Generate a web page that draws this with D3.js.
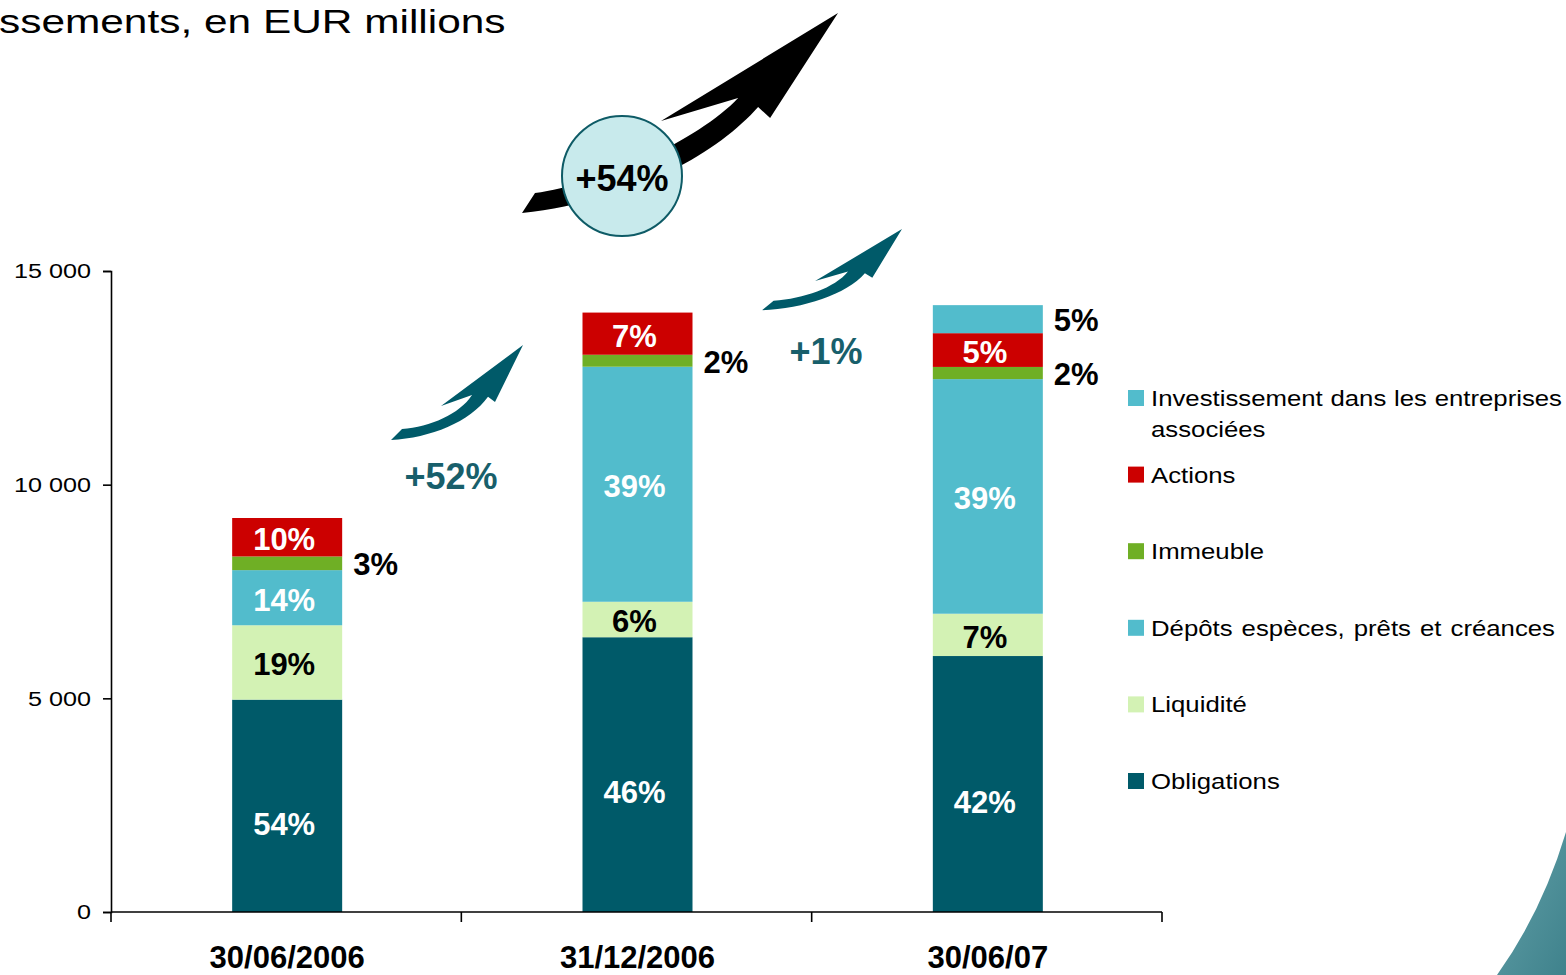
<!DOCTYPE html>
<html>
<head>
<meta charset="utf-8">
<script src="https://cdn.jsdelivr.net/npm/d3@7"></script>
<style>
  body { margin: 0; background: #fff; }
  svg { display: block; font-family: "Liberation Sans", Arial, sans-serif; }
</style>
</head>
<body>
<script>
// placements, EUR millions
var categories = ["30/06/2006", "31/12/2006", "30/06/07"];
var totals = ["9 223", "14 027", "14 211"];

var obligations   = [4970, 6430, 5990];
var liquidite     = [1740, 830, 990];
var depots        = [1290, 5500, 5490];
var immeuble      = [320, 280, 285];
var actions       = [900, 987, 790];
var investissement = [0, 0, 656];

var obligationsPct = ["54%", "46%", "42%"];
var liquiditePct   = ["19%", "6%", "7%"];
var depotsPct      = ["14%", "39%", "39%"];
var immeublePct    = ["3%", "2%", "2%"];
var actionsPct     = ["10%", "7%", "5%"];
var investPct      = ["", "", "5%"];

var growth = ["+52%", "+1%"];
var growthTotal = "+54%";

var yTicks = [0, 5000, 10000, 15000];

var series = [
    {key: "obl", name: "Obligations", values: obligations, pct: obligationsPct, fill: "#005a69", text: "#fff", inside: true},
    {key: "liq", name: "Liquidité", values: liquidite, pct: liquiditePct, fill: "#d3f2b4", text: "#000", inside: true},
    {key: "dep", name: "Dépôts espèces, prêts et créances", values: depots, pct: depotsPct, fill: "#52bccc", text: "#fff", inside: true},
    {key: "imm", name: "Immeuble", values: immeuble, pct: immeublePct, fill: "#6faf25", text: "#000", inside: false},
    {key: "act", name: "Actions", values: actions, pct: actionsPct, fill: "#cc0000", text: "#fff", inside: true},
    {key: "inv", name: "Investissement dans les entreprises associées", values: investissement, pct: investPct, fill: "#52bccc", text: "#000", inside: false}
];

var W = 1566, H = 975;
var teal = "#185f6b";
// the slide was stretched sideways, plain text looks wider than the font
var stretchTitle = 1.285, stretchTicks = 1.2, stretchLegend = 1.12;

var svg = d3.select("body").append("svg")
    .attr("width", W)
    .attr("height", H);

var defs = svg.append("defs");
var grad = defs.append("linearGradient")
    .attr("id", "corner")
    .attr("x1", 0).attr("y1", 0).attr("x2", 1).attr("y2", 1);
grad.append("stop").attr("offset", "0%").attr("stop-color", "#62a0a8");
grad.append("stop").attr("offset", "100%").attr("stop-color", "#3f828c");

// decoration in the bottom right corner
svg.append("path")
    .attr("d", "M1566,832 Q1542,912 1497,975 L1566,975 Z")
    .attr("fill", "url(#corner)");

// title, cut off at the left like the original slide
svg.append("text")
    .attr("transform", "scale(" + stretchTitle + ",1)")
    .attr("x", -1 / stretchTitle)
    .attr("y", 33)
    .attr("font-size", 33)
    .attr("fill", "#000")
    .text("ssements, en EUR millions");

var rows = categories.map(function(c, i) {
    var r = {cat: c};
    series.forEach(function(s) { r[s.key] = s.values[i]; });
    return r;
});

var stack = d3.stack().keys(series.map(function(s) { return s.key; }));
var layers = stack(rows);

var x = d3.scaleBand()
    .domain(categories)
    .range([111, 1162])
    .padding(0);

var y = d3.scaleLinear()
    .domain([0, 15000])
    .range([912, 271]);

var barW = 110;
function barX(cat) { return x(cat) + x.bandwidth() / 2 - barW / 2 + 1; }

var fmt = d3.formatLocale({decimal: ",", thousands: " ", grouping: [3], currency: ["", ""]}).format(",d");

// bars
var gBars = svg.append("g");
layers.forEach(function(layer, li) {
    var s = series[li];
    gBars.selectAll("rect." + s.key)
        .data(layer)
        .enter()
        .append("rect")
        .attr("class", s.key)
        .attr("x", function(d) { return barX(d.data.cat); })
        .attr("width", barW)
        .attr("y", function(d) { return y(d[1]); })
        .attr("height", function(d) { return y(d[0]) - y(d[1]); })
        .attr("fill", s.fill);
});

// percent labels
var gLab = svg.append("g")
    .attr("font-weight", "bold")
    .attr("font-size", 31);
layers.forEach(function(layer, li) {
    var s = series[li];
    layer.forEach(function(d, i) {
        var txt = s.pct[i];
        if (!txt) return;
        var cy = (y(d[0]) + y(d[1])) / 2;
        if (s.inside) {
            gLab.append("text")
                .attr("x", barX(d.data.cat) + barW / 2 - 3)
                .attr("y", cy + (s.key === "obl" ? 18 : 2))
                .attr("dy", "0.35em")
                .attr("text-anchor", "middle")
                .attr("fill", s.text)
                .text(txt);
        } else {
            gLab.append("text")
                .attr("x", barX(d.data.cat) + barW + 11)
                .attr("y", cy + 1)
                .attr("dy", "0.35em")
                .attr("fill", "#000")
                .text(txt);
        }
    });
});

// totals above the bars
var top = layers[layers.length - 1];
svg.append("g")
    .selectAll("text")
    .data(top)
    .enter()
    .append("text")
    .attr("x", function(d) { return x(d.data.cat) + x.bandwidth() / 2 + 2; })
    .attr("y", function(d) { return y(d[1]) - 21; })
    .attr("text-anchor", "middle")
    .attr("font-weight", "bold")
    .attr("font-size", 36)
    .attr("fill", teal)
    .text(function(d, i) { return totals[i]; });

// axes
var yAxis = d3.axisLeft(y)
    .tickValues(yTicks)
    .tickSize(8)
    .tickPadding(12)
    .tickFormat(fmt);

var gy = svg.append("g")
    .attr("transform", "translate(111,0)")
    .call(yAxis);
gy.select(".domain").attr("stroke", "#000").attr("stroke-width", 1.6);
gy.selectAll(".tick line").attr("stroke", "#000").attr("stroke-width", 1.6);
gy.selectAll(".tick text")
    .attr("font-family", "Liberation Sans, Arial, sans-serif")
    .attr("font-size", 21)
    .attr("fill", "#000")
    .attr("x", -20 / stretchTicks)
    .attr("transform", "scale(" + stretchTicks + ",1)");

var gx = svg.append("g").attr("transform", "translate(0,912)");
gx.append("line")
    .attr("x1", 111).attr("x2", 1162)
    .attr("stroke", "#000").attr("stroke-width", 1.6);
var edges = categories.map(function(c) { return x(c); }).concat([x.range()[1]]);
gx.selectAll("line.tk")
    .data(edges)
    .enter()
    .append("line")
    .attr("class", "tk")
    .attr("x1", function(d) { return d; })
    .attr("x2", function(d) { return d; })
    .attr("y1", 0).attr("y2", 10)
    .attr("stroke", "#000").attr("stroke-width", 1.6);
gx.selectAll("text")
    .data(categories)
    .enter()
    .append("text")
    .attr("x", function(d) { return x(d) + x.bandwidth() / 2 + 1; })
    .attr("y", 56)
    .attr("text-anchor", "middle")
    .attr("font-weight", "bold")
    .attr("font-size", 31)
    .attr("fill", "#000")
    .text(function(d) { return d; });

// curved arrows, shape template in a unit box
var tealArrow = {
    tailB: [0, 0.99], tailT: [0.083, 0.875],
    c1: [0.3, 0.85], c2: [0.52, 0.72], notchL: [0.614, 0.52],
    barbL: [0.379, 0.635], tip: [1, 0], barbR: [0.788, 0.594],
    notchR: [0.735, 0.54], c3: [0.6, 0.8], c4: [0.3, 0.97]
};
var blackArrow = {
    tailB: [0, 1], tailT: [0.041, 0.9],
    c1: [0.245, 0.86], c2: [0.56, 0.635], notchL: [0.684, 0.425],
    barbL: [0.44, 0.54], tip: [1, 0], barbR: [0.785, 0.525],
    notchR: [0.747, 0.47], c3: [0.627, 0.685], c4: [0.373, 0.935]
};

function arrowPath(t, x0, y0, w, h) {
    function p(k) { return (x0 + t[k][0] * w).toFixed(1) + "," + (y0 + t[k][1] * h).toFixed(1); }
    return "M" + p("tailB") + " L" + p("tailT") +
        " C" + p("c1") + " " + p("c2") + " " + p("notchL") +
        " L" + p("barbL") + " L" + p("tip") + " L" + p("barbR") + " L" + p("notchR") +
        " C" + p("c3") + " " + p("c4") + " " + p("tailB") + " Z";
}

var gArr = svg.append("g");
gArr.append("path").attr("d", arrowPath(tealArrow, 391, 345, 132, 96)).attr("fill", "#005a69");
gArr.append("path").attr("d", arrowPath(tealArrow, 762, 229, 140, 82)).attr("fill", "#005a69");
gArr.append("path").attr("d", arrowPath(blackArrow, 522, 13, 316, 200)).attr("fill", "#000");

gArr.append("circle")
    .attr("cx", 622).attr("cy", 176).attr("r", 60)
    .attr("fill", "#c8eaec")
    .attr("stroke", "#0e5b66")
    .attr("stroke-width", 2);
gArr.append("text")
    .attr("x", 622).attr("y", 178)
    .attr("dy", "0.35em")
    .attr("text-anchor", "middle")
    .attr("font-weight", "bold")
    .attr("font-size", 36)
    .attr("fill", "#000")
    .text(growthTotal);

// growth between dates
var growthPos = [[451, 476], [826, 351]];
svg.append("g")
    .selectAll("text")
    .data(growth)
    .enter()
    .append("text")
    .attr("x", function(d, i) { return growthPos[i][0]; })
    .attr("y", function(d, i) { return growthPos[i][1]; })
    .attr("dy", "0.35em")
    .attr("text-anchor", "middle")
    .attr("font-weight", "bold")
    .attr("font-size", 36)
    .attr("fill", teal)
    .text(function(d) { return d; });

// legend, top item is the last series
var legend = svg.append("g").attr("font-size", 23).attr("fill", "#000");
var legendItems = series.slice().reverse();
legendItems.forEach(function(s, i) {
    var cy = 398 + i * 76.6;
    legend.append("rect")
        .attr("x", 1128).attr("y", cy - 8)
        .attr("width", 16).attr("height", 16)
        .attr("fill", s.fill);
    var lines = s.key === "inv" ? ["Investissement dans les entreprises", "associées"] : [s.name];
    lines.forEach(function(line, j) {
        var t = legend.append("text")
            .attr("transform", "translate(1151," + (cy + j * 31) + ") scale(" + stretchLegend + ",1)")
            .attr("dy", "0.35em")
            .text(line);
        // the slide justifies the long lines
        var target = s.key === "inv" && j === 0 ? 411 : (s.key === "dep" ? 404 : 0);
        if (target) {
            var nat = t.node().getComputedTextLength() * stretchLegend;
            var gaps = line.split(" ").length - 1;
            if (gaps > 0 && target > nat) t.attr("word-spacing", (target - nat) / gaps / stretchLegend);
        }
    });
});
</script>
</body>
</html>
